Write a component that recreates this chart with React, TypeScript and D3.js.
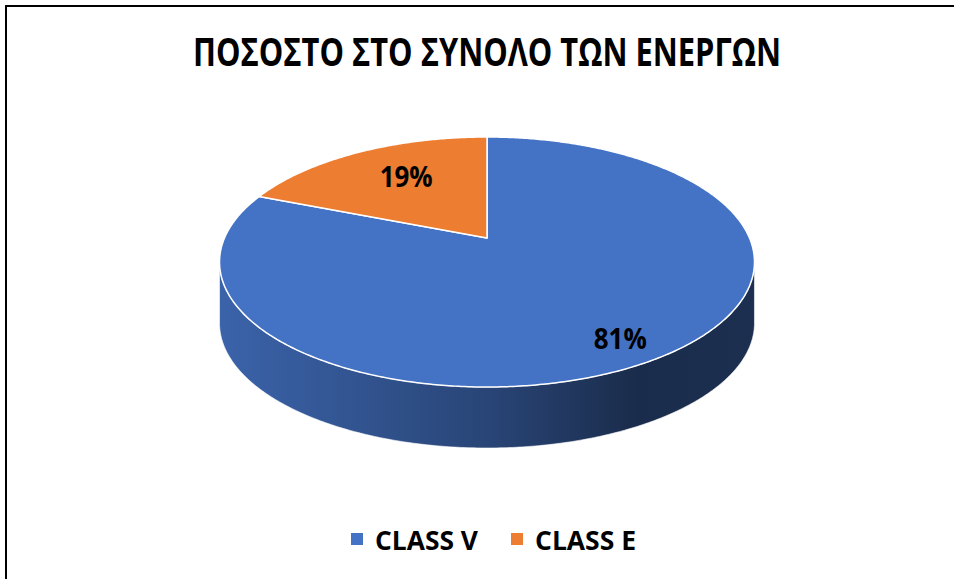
import React from 'react'
import * as d3 from 'd3'

const title = 'ΠΟΣΟΣΤΟ ΣΤΟ ΣΥΝΟΛΟ ΤΩΝ ΕΝΕΡΓΩΝ'
const categories = ['CLASS V', 'CLASS E']
const shares = [81, 19]
const sliceColors = ['#4472C4', '#ED7D31']

const W = 954
const H = 579
const FONT = '"Open Sans", sans-serif'

// 3D pie projection (perspective, Excel-like)
const cx = 487
const cy = 238
const RX = 262.5
const RY = 120.4
const K = -0.192
const DEPTH = 61

// angle is clockwise from 12 o'clock like d3.pie, r in [0, 1]
function project(a: number, r = 1, drop = 0): [number, number] {
  const u = Math.sin(a) * r
  const v = -Math.cos(a) * r
  const w = 1 + K * v
  return [cx + (RX * u) / w, cy + (RY * v) / w + drop]
}

function arcPoints(a0: number, a1: number, drop = 0) {
  const n = Math.max(2, Math.ceil(Math.abs(a1 - a0) / 0.01))
  return d3.range(n + 1).map((i) => project(a0 + ((a1 - a0) * i) / n, 1, drop))
}

const line = d3.line()

function topPath(a0: number, a1: number) {
  return line([project(0, 0), ...arcPoints(a0, a1)]) + 'Z'
}

// visible front wall lies between the silhouette angles
const frontStart = Math.acos(K)
const frontEnd = 2 * Math.PI - Math.acos(K)

function sidePath(a0: number, a1: number) {
  const s = Math.max(a0, frontStart)
  const e = Math.min(a1, frontEnd)
  if (e <= s) return null
  return line([...arcPoints(s, e), ...arcPoints(e, s, DEPTH)]) + 'Z'
}

export default function App() {
  const pie = d3.pie<number>().sort(null).value((d) => d)
  const arcs = pie(shares)
  const color = d3.scaleOrdinal<string, string>().domain(categories).range(sliceColors)
  const labelRadius = [0.79, 0.6]
  const labelDy = ['0.74em', '0.12em']

  const legendX = [351, 511]

  return (
    <svg
      width={W}
      height={H}
      style={{ position: 'absolute', left: 0, top: 0, background: '#fff' }}
      fontFamily={FONT}
    >
      <defs>
        {categories.map((c, i) => {
          const base = d3.color(color(c))!
          return (
            <linearGradient
              key={c}
              id={'side' + i}
              gradientUnits="userSpaceOnUse"
              x1={cx - RX * 1.02}
              x2={cx + RX * 1.02}
              y1={0}
              y2={0}
            >
              <stop offset="0" stopColor={base.darker(0.4).formatHex()} />
              <stop offset="0.5" stopColor={base.darker(1.4).formatHex()} />
              <stop offset="0.78" stopColor={base.darker(2.7).formatHex()} />
              <stop offset="1" stopColor={base.darker(2.5).formatHex()} />
            </linearGradient>
          )
        })}
      </defs>

      <rect x={6} y={6} width={W + 20} height={H + 20} fill="none" stroke="#000" strokeWidth={2} />

      <text
        x={cx}
        y={66}
        textAnchor="middle"
        fontSize={40}
        fontWeight="bold"
        textLength={588}
        lengthAdjust="spacingAndGlyphs"
      >
        {title}
      </text>

      {arcs.map((a, i) => {
        const d = sidePath(a.startAngle, a.endAngle)
        return d ? (
          <path key={'s' + i} d={d} fill={`url(#side${i})`} stroke="#fff" strokeWidth={1} strokeOpacity={0.6} />
        ) : null
      })}

      {arcs.map((a, i) => (
        <path
          key={'t' + i}
          d={topPath(a.startAngle, a.endAngle)}
          fill={color(categories[i])}
          stroke="#fff"
          strokeWidth={1.5}
          strokeLinejoin="round"
        />
      ))}

      {arcs.map((a, i) => {
        const [x, y] = project((a.startAngle + a.endAngle) / 2, labelRadius[i])
        return (
          <text
            key={'l' + i}
            x={x}
            y={y}
            dy={labelDy[i]}
            textAnchor="middle"
            fontSize={29}
            fontWeight="bold"
            fill="#000"
            textLength={53}
            lengthAdjust="spacingAndGlyphs"
          >
            {d3.format('.0%')(a.data / 100)}
          </text>
        )
      })}

      {categories.map((c, i) => (
        <g key={c} transform={`translate(${legendX[i]},0)`}>
          <rect x={0} y={533} width={12} height={12} fill={color(c)} />
          <text
            x={24}
            y={550}
            fontSize={26}
            fontWeight="bold"
            textLength={i === 0 ? 103 : 101}
            lengthAdjust="spacingAndGlyphs"
          >
            {c}
          </text>
        </g>
      ))}
    </svg>
  )
}
